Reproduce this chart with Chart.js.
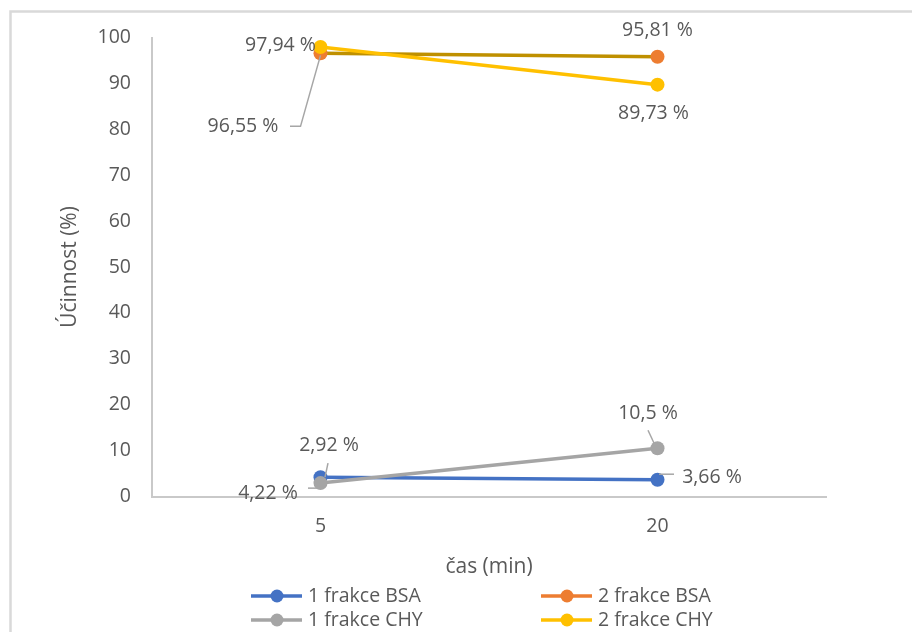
<!DOCTYPE html>
<html>
<head>
<meta charset="utf-8">
<script src="https://cdn.jsdelivr.net/npm/chart.js@4/dist/chart.umd.min.js"></script>
<style>
  html, body { margin: 0; padding: 0; background: #ffffff; }
  #wrap { width: 912px; height: 632px; position: relative; }
</style>
</head>
<body>
<div id="wrap"><canvas id="c" width="912" height="632"></canvas></div>
<script>
// Time points (min)
const categories = ['5', '20'];
// Efficiency (%) for each fraction
const bsa1 = [4.22, 3.66];
const bsa2 = [96.55, 95.81];
const chy1 = [2.92, 10.5];
const chy2 = [97.94, 89.73];
const seriesNames = ['1 frakce BSA', '2 frakce BSA', '1 frakce CHY', '2 frakce CHY'];
const yMin = 0, yMax = 100, yStep = 10;

const FONT = '"Open Sans", "Noto Sans", sans-serif';
const TEXT = '#595959';

// Placement of each value label relative to its point: [dx, dy, leader path]
const labelPlacement = [
  [ [-52.5, 16, [[-12.5, 11], [-1, 11]]], [54.5, -2.5, [[16.5, -5.5], [1.5, -5.5]]] ],
  [ [-77.5, 73, [[-30.5, 73], [-20, 73], [0, 2]]], [0, -26, null] ],
  [ [8.5, -37.5, [[7.5, -20], [4.5, -6]]], [-9.5, -35, [[-9.5, -18], [-2.5, -3]]] ],
  [ [-40, -2, null], [-4, 29, null] ]
];

const fmt = v => String(v).replace('.', ',') + ' %';

const frame = {
  id: 'frame',
  beforeDraw(chart) {
    const ctx = chart.ctx;
    ctx.save();
    ctx.fillStyle = '#ffffff';
    ctx.fillRect(0, 0, chart.width, chart.height);
    ctx.strokeStyle = '#D9D9D9';
    ctx.lineWidth = 2.5;
    ctx.strokeRect(10.5, 11.5, 1000, 1000);
    ctx.restore();
  }
};

const valueLabels = {
  id: 'valueLabels',
  afterDatasetsDraw(chart) {
    const ctx = chart.ctx;
    ctx.save();
    chart.data.datasets.forEach((ds, di) => {
      const meta = chart.getDatasetMeta(di);
      meta.data.forEach((pt, i) => {
        const [dx, dy, leader] = labelPlacement[di][i];
        if (leader) {
          ctx.strokeStyle = '#A6A6A6';
          ctx.lineWidth = 1.5;
          ctx.beginPath();
          leader.forEach(([lx, ly], k) => {
            if (k === 0) ctx.moveTo(pt.x + lx, pt.y + ly);
            else ctx.lineTo(pt.x + lx, pt.y + ly);
          });
          ctx.stroke();
        }
        ctx.fillStyle = TEXT;
        ctx.font = '19.5px ' + FONT;
        ctx.textAlign = 'center';
        ctx.textBaseline = 'middle';
        ctx.fillText(fmt(ds.data[i]), pt.x + dx, pt.y + dy);
      });
    });
    ctx.restore();
  }
};

const gridLegend = {
  id: 'gridLegend',
  afterDraw(chart) {
    const ctx = chart.ctx;
    ctx.save();
    chart.data.datasets.forEach((ds, i) => {
      const col = i % 2, row = Math.floor(i / 2);
      const x0 = 251 + col * 290;
      const y = 596 + row * 24;
      ctx.strokeStyle = ds.legendColor;
      ctx.lineWidth = 3.5;
      ctx.beginPath();
      ctx.moveTo(x0, y);
      ctx.lineTo(x0 + 51, y);
      ctx.stroke();
      ctx.fillStyle = ds.legendColor;
      ctx.beginPath();
      ctx.arc(x0 + 26, y, 6.5, 0, Math.PI * 2);
      ctx.fill();
      ctx.fillStyle = TEXT;
      ctx.font = '19.5px ' + FONT;
      ctx.textAlign = 'left';
      ctx.textBaseline = 'middle';
      ctx.fillText(ds.label, x0 + 57, y);
    });
    ctx.restore();
  }
};

function series(label, data, line, point, order) {
  return {
    label, data, order,
    legendColor: point,
    borderColor: line,
    backgroundColor: point,
    pointBackgroundColor: point,
    pointBorderColor: point,
    borderWidth: 3.5,
    pointRadius: 7,
    pointHoverRadius: 7,
    pointBorderWidth: 0,
    tension: 0
  };
}

new Chart(document.getElementById('c'), {
  type: 'line',
  data: {
    labels: categories,
    datasets: [
      series(seriesNames[0], bsa1, '#4472C4', '#4472C4', 4),
      series(seriesNames[1], bsa2, '#BF9000', '#ED7D31', 3),
      series(seriesNames[2], chy1, '#A5A5A5', '#A5A5A5', 2),
      series(seriesNames[3], chy2, '#FFC000', '#FFC000', 1)
    ]
  },
  options: {
    responsive: false,
    animation: false,
    events: [],
    layout: { padding: { left: 0, top: 37.5, right: 86, bottom: 45.5 } },
    plugins: { legend: { display: false }, tooltip: { enabled: false } },
    scales: {
      x: {
        offset: true,
        grid: { display: false, drawTicks: false },
        border: { display: true, color: '#C9C9C9', width: 2 },
        ticks: { color: TEXT, font: { family: FONT, size: 19.5 }, padding: 18 },
        title: { display: true, text: 'čas (min)', color: TEXT, font: { family: FONT, size: 21 }, padding: { top: 0, bottom: 7 } },
        afterFit(s) { s.height = 90; }
      },
      y: {
        min: yMin, max: yMax,
        grid: { display: false, drawTicks: false },
        border: { display: true, color: '#C9C9C9', width: 2 },
        ticks: { stepSize: yStep, color: TEXT, font: { family: FONT, size: 19.5 }, padding: 21 },
        title: { display: true, text: 'Účinnost (%)', color: TEXT, font: { family: FONT, size: 21 }, padding: { top: 57, bottom: 0 } },
        afterFit(s) { s.width = 152; }
      }
    }
  },
  plugins: [frame, valueLabels, gridLegend]
});
</script>
</body>
</html>
